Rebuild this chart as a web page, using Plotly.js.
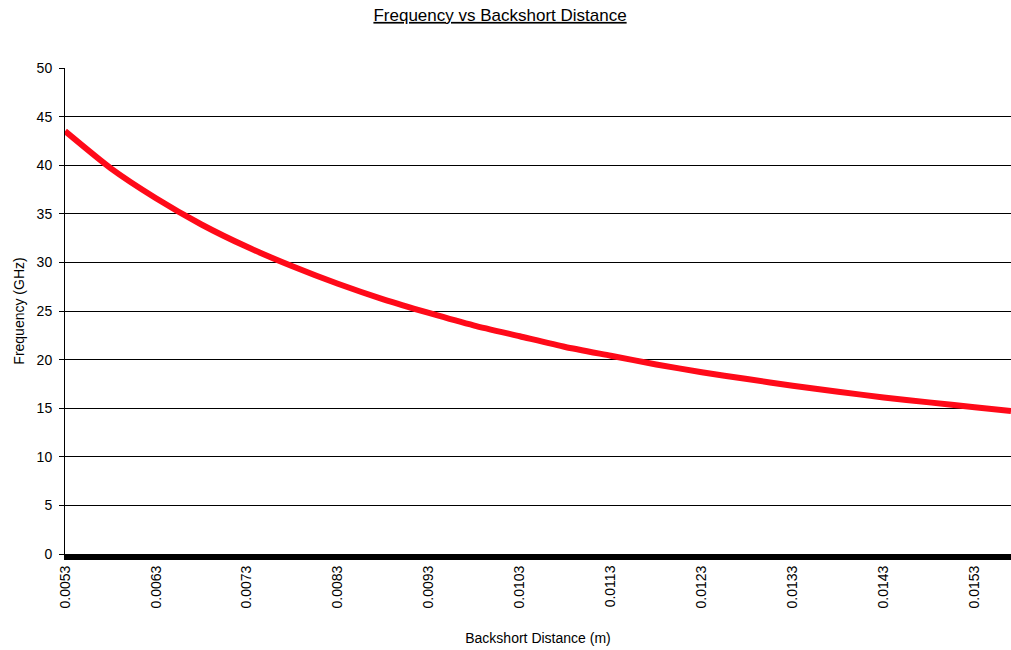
<!DOCTYPE html>
<html>
<head>
<meta charset="utf-8">
<script src="https://cdn.plot.ly/plotly-3.0.1.min.js"></script>
<style>html,body{margin:0;padding:0;background:#fff;}#chart{width:1011px;height:650px;}</style>
</head>
<body>
<div id="chart"></div>
<script>
// Backshort distance (m)
const distance = [0.0053, 0.0058, 0.0063, 0.0068, 0.0073, 0.0078, 0.0083, 0.0088, 0.0093, 0.0098, 0.0103,
                  0.0108, 0.0113, 0.0118, 0.0123, 0.0128, 0.0133, 0.0138, 0.0143, 0.0148, 0.0153, 0.0157];
// Frequency (GHz)
const frequency = [43.5, 39.7, 36.6, 33.9, 31.6, 29.6, 27.8, 26.2, 24.8, 23.5, 22.4,
                   21.3, 20.4, 19.5, 18.7, 18.0, 17.3, 16.7, 16.1, 15.6, 15.1, 14.7];
const xTickVals = [0.0053, 0.0063, 0.0073, 0.0083, 0.0093, 0.0103, 0.0113, 0.0123, 0.0133, 0.0143, 0.0153];
const xTickText = ["0.0053", "0.0063", "0.0073", "0.0083", "0.0093", "0.0103", "0.0113", "0.0123", "0.0133", "0.0143", "0.0153"];
const yTickVals = [0, 5, 10, 15, 20, 25, 30, 35, 40, 45, 50];

const FONT = "'Liberation Sans', Arial, sans-serif";

const trace = {
  x: distance,
  y: frequency,
  type: 'scatter',
  mode: 'lines',
  line: {color: 'rgb(255,10,25)', width: 6, shape: 'spline', smoothing: 0.6},
  hoverinfo: 'x+y'
};

const layout = {
  width: 1011,
  height: 650,
  paper_bgcolor: '#ffffff',
  plot_bgcolor: '#ffffff',
  margin: {l: 65, r: 0, t: 68, b: 96, pad: 0},
  showlegend: false,
  font: {family: FONT, color: '#000', size: 14},
  title: {
    text: '<u>Frequency vs Backshort Distance</u>',
    font: {family: FONT, size: 17, color: '#000'},
    x: 0.4946, xanchor: 'center', xref: 'container',
    y: 0.977, yanchor: 'middle', yref: 'container'
  },
  xaxis: {
    range: [0.0053, 0.0157],
    tickmode: 'array',
    tickvals: xTickVals,
    ticktext: xTickText,
    tickangle: -90,
    ticks: '',
    showgrid: false,
    zeroline: false,
    showline: true,
    linecolor: '#000',
    linewidth: 6,
    tickfont: {family: FONT, size: 14, color: '#000'},
    title: {text: 'Backshort Distance (m)', font: {family: FONT, size: 14, color: '#000'}, standoff: 28}
  },
  yaxis: {
    range: [0, 50],
    tickmode: 'array',
    tickvals: yTickVals,
    ticks: 'outside',
    ticklen: 5,
    tickwidth: 1,
    tickcolor: '#000',
    ticklabelstandoff: 4,
    showgrid: true,
    gridcolor: '#000',
    gridwidth: 1,
    zeroline: false,
    showline: true,
    linecolor: '#000',
    linewidth: 1,
    tickfont: {family: FONT, size: 14, color: '#000'},
    title: {text: 'Frequency (GHz)', font: {family: FONT, size: 14, color: '#000'}, standoff: 8}
  }
};

Plotly.newPlot('chart', [trace], layout, {displayModeBar: false, staticPlot: true});
</script>
</body>
</html>
